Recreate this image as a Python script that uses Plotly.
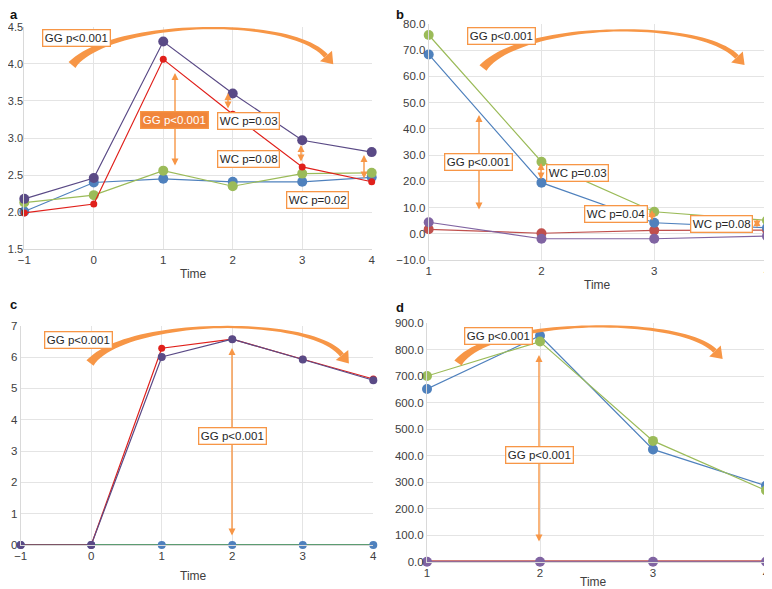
import numpy as np
import plotly.graph_objects as go

W, H = 772, 589
OFF = 8  # the page body adds an 8px margin; positions below are in window pixels

# ---------------- data ----------------
time_ac = [-1, 0, 1, 2, 3, 4]
time_bd = [1, 2, 3, 4]

a_purple = [2.18, 2.46, 4.30, 3.60, 2.97, 2.81]
a_red = [1.99, 2.11, 4.06, 3.32, 2.61, 2.41]
a_green = [2.13, 2.23, 2.56, 2.35, 2.52, 2.53]
a_blue = [2.01, 2.40, 2.45, 2.41, 2.41, 2.47]

b_green = [75.8, 27.5, 8.4, 5.1]
b_blue = [68.4, 19.5, 4.2, 2.3]
b_red = [1.7, 0.2, 1.3, 1.4]
b_purple = [4.4, -1.9, -1.9, -0.9]

c_blue = [0, 0, 0, 0, 0, 0]
c_green = [0, 0, 0, 0, 0, 0]
c_red = [0, 0, 6.28, 6.57, 5.93, 5.30]
c_purple = [0, 0, 6.00, 6.57, 5.92, 5.26]

d_blue = [652, 853, 424, 287]
d_green = [701, 831, 456, 269]
d_red = [0, 0, 0, 0]
d_purple = [0, 0, 0, 0]

BLUE = "#4F81BD"
GREEN = "#9BBB59"
RED_A = "#E0201B"
PURP_A = "#5A4A86"
RED_B = "#C0504D"
PURP_B = "#8064A2"
ORANGE = "#F79646"
ORANGE_FILL = "#F0853A"
GRID = "#E4E4E4"
FONT = "Liberation Sans, Arial, sans-serif"
TXT = "#404040"


def pxx(px):
    return (px - OFF) / W


def pxy(py):
    return 1 - (py - OFF) / H


# plot-area pixel boxes (left, top, right, bottom)
boxes = {
    "a": (24.3, 26.7, 371.7, 249.3),
    "b": (428.7, 24.0, 767.0, 260.0),
    "c": (20.7, 325.7, 373.3, 545.0),
    "d": (427.0, 323.3, 766.0, 561.7),
}

fig = go.Figure()


def add_line(idx, x, y, color, msize, lw=1.2):
    fig.add_trace(go.Scatter(
        x=x, y=y, mode="lines+markers", xaxis="x" + idx, yaxis="y" + idx,
        line=dict(color=color, width=lw), marker=dict(color=color, size=msize),
        cliponaxis=False, showlegend=False, hoverinfo="x+y"))


# panel a
add_line("", time_ac, a_blue, BLUE, 10)
add_line("", time_ac, a_green, GREEN, 10)
add_line("", time_ac, a_red, RED_A, 7)
add_line("", time_ac, a_purple, PURP_A, 10)
# panel b
add_line("2", time_bd, b_red, RED_B, 10)
add_line("2", time_bd, b_purple, PURP_B, 10)
add_line("2", time_bd, b_blue, BLUE, 10)
add_line("2", time_bd, b_green, GREEN, 10)
# panel c
add_line("3", time_ac, c_green, "#5E9E6E", 0.1, lw=2)
add_line("3", time_ac, c_blue, BLUE, 8, lw=0.1)
add_line("3", time_ac, c_red, RED_A, 7)
add_line("3", time_ac, c_purple, PURP_A, 8)
# panel d
add_line("4", time_bd, d_blue, BLUE, 10)
add_line("4", time_bd, d_green, GREEN, 10)
add_line("4", time_bd, d_red, RED_B, 0.1, lw=3)
add_line("4", time_bd, d_purple, PURP_B, 10, lw=1.5)


def axis_common():
    return dict(showgrid=True, gridcolor=GRID, gridwidth=1, zeroline=False,
                showline=True, linecolor="#D9D9D9", linewidth=1,
                ticks="", tickfont=dict(family=FONT, size=11.5, color=TXT),
                fixedrange=True, automargin=False, ticklabeloverflow="allow")


specs = {
    "a": dict(xr=[-1, 4], yr=[1.5, 4.5], dy=0.5, fmt=".1f"),
    "b": dict(xr=[1, 4], yr=[-10, 80], dy=10, fmt=".1f"),
    "c": dict(xr=[-1, 4], yr=[0, 7], dy=1, fmt="d"),
    "d": dict(xr=[1, 4], yr=[0, 900], dy=100, fmt=".1f"),
}
names = {"a": "", "b": "2", "c": "3", "d": "4"}
layout = {}
for k, s in specs.items():
    l, t, r, b = boxes[k]
    n = names[k]
    xa = axis_common()
    xa.update(domain=[pxx(l), pxx(r)], range=s["xr"], dtick=1, anchor="y" + n)
    ya = axis_common()
    ya.update(domain=[pxy(b), pxy(t)], range=s["yr"], dtick=s["dy"],
              tickformat=s["fmt"], anchor="x" + n)
    layout["xaxis" + n] = xa
    layout["yaxis" + n] = ya
# panel a labels sit right at the window edge: keep them fully visible
layout["yaxis"]["tickfont"] = dict(family=FONT, size=11, color=TXT)
layout["yaxis"]["ticklabelstandoff"] = -2

annotations = []
shapes = []


def textbox(cx, cy, text, filled=False):
    annotations.append(dict(
        x=pxx(cx), y=pxy(cy), xref="paper", yref="paper", text=text,
        showarrow=False, font=dict(family=FONT, size=11.5,
                                   color="white" if filled else "#262626"),
        bgcolor=ORANGE_FILL if filled else "white",
        bordercolor=ORANGE, borderwidth=1.3, borderpad=1.5,
        xanchor="center", yanchor="middle"))


def double_arrow(x, y0, y1):
    annotations.append(dict(
        x=pxx(x), y=pxy(y0), xref="paper", yref="paper", ax=0, ay=y1 - y0,
        axref="pixel", ayref="pixel", text="", showarrow=True,
        arrowhead=2, startarrowhead=2, arrowside="end+start",
        arrowsize=1, startarrowsize=1, arrowwidth=1.4, arrowcolor=ORANGE))


def curved_arrow(p0, p1, p2, p3, w0=9, wm=2.2, w1=5, head_len=11, head_w=16):
    p0, p1, p2, p3 = map(np.array, (p0, p1, p2, p3))
    ts = np.linspace(0, 1, 48)
    left, right = [], []
    for t in ts:
        bpt = (1 - t) ** 3 * p0 + 3 * (1 - t) ** 2 * t * p1 + 3 * (1 - t) * t ** 2 * p2 + t ** 3 * p3
        d = 3 * (1 - t) ** 2 * (p1 - p0) + 6 * (1 - t) * t * (p2 - p1) + 3 * t ** 2 * (p3 - p2)
        d = d / np.linalg.norm(d)
        nrm = np.array([-d[1], d[0]])
        if t < 0.5:
            w = w0 + (wm - w0) * (t / 0.5) ** 0.6
        else:
            w = wm + (w1 - wm) * ((t - 0.5) / 0.5) ** 1.5
        left.append(bpt + nrm * w / 2)
        right.append(bpt - nrm * w / 2)
    pts = left + right[::-1]
    path = "M " + " L ".join(f"{pxx(p[0]):.5f},{pxy(p[1]):.5f}" for p in pts) + " Z"
    shapes.append(dict(type="path", xref="paper", yref="paper", path=path,
                       fillcolor=ORANGE, line=dict(width=0)))
    d = p3 - p2
    d = d / np.linalg.norm(d)
    nrm = np.array([-d[1], d[0]])
    tip = p3 + d * head_len
    b1 = p3 + nrm * head_w / 2
    b2 = p3 - nrm * head_w / 2
    path = "M " + " L ".join(f"{pxx(p[0]):.5f},{pxy(p[1]):.5f}" for p in (tip, b1, b2)) + " Z"
    shapes.append(dict(type="path", xref="paper", yref="paper", path=path,
                       fillcolor=ORANGE, line=dict(width=0)))


# panel a decorations
curved_arrow((72, 65), (110, 20), (290, 15), (326, 56))
textbox(76, 38, "GG p<0.001")
double_arrow(175, 73, 167)
textbox(174.5, 119.5, "GG p<0.001", filled=True)
double_arrow(228, 93, 110)
textbox(248.5, 121, "WC p=0.03")
double_arrow(301, 145, 163)
textbox(248.5, 158.5, "WC p=0.08")
double_arrow(364, 155, 180)
textbox(317, 199.5, "WC p=0.02")

# panel b decorations
curved_arrow((483, 68), (520, 22), (700, 18), (737, 57))
textbox(501, 35.5, "GG p<0.001")
double_arrow(479, 115, 211)
textbox(478, 162, "GG p<0.001")
double_arrow(541, 163, 181)
textbox(577, 172.5, "WC p=0.03")
double_arrow(652, 210, 222)
textbox(615.5, 214, "WC p=0.04")
double_arrow(757, 219, 229)
textbox(721, 224, "WC p=0.08")

# panel c decorations
curved_arrow((90, 363), (125, 318), (310, 315), (342, 355))
textbox(78.5, 339.5, "GG p<0.001")
double_arrow(232, 348, 537)
textbox(233, 436, "GG p<0.001")

# panel d decorations
curved_arrow((458, 363), (490, 318), (680, 315), (715, 351))
textbox(498.5, 335.5, "GG p<0.001")
double_arrow(539, 355, 543)
textbox(539.5, 454.5, "GG p<0.001")

# panel letters and axis titles
for letter, (x, y) in {"a": (8, 5), "b": (394, 5), "c": (8, 295), "d": (394, 298)}.items():
    annotations.append(dict(x=pxx(x), y=pxy(y), xref="paper", yref="paper", text=f"<b>{letter}</b>",
                            showarrow=False, xanchor="left", yanchor="top",
                            font=dict(family=FONT, size=13, color="#111111")))
for (x, y) in [(193, 274), (597, 285), (193, 576), (593, 582)]:
    annotations.append(dict(x=pxx(x), y=pxy(y), xref="paper", yref="paper", text="Time",
                            showarrow=False, xanchor="center", yanchor="middle",
                            font=dict(family=FONT, size=12, color=TXT)))

fig.update_layout(**layout)
fig.update_layout(width=W, height=H, margin=dict(l=0, r=0, t=0, b=0, autoexpand=False),
                  paper_bgcolor="white", plot_bgcolor="white",
                  annotations=annotations, shapes=shapes, showlegend=False)

fig.write_html("out.html")
